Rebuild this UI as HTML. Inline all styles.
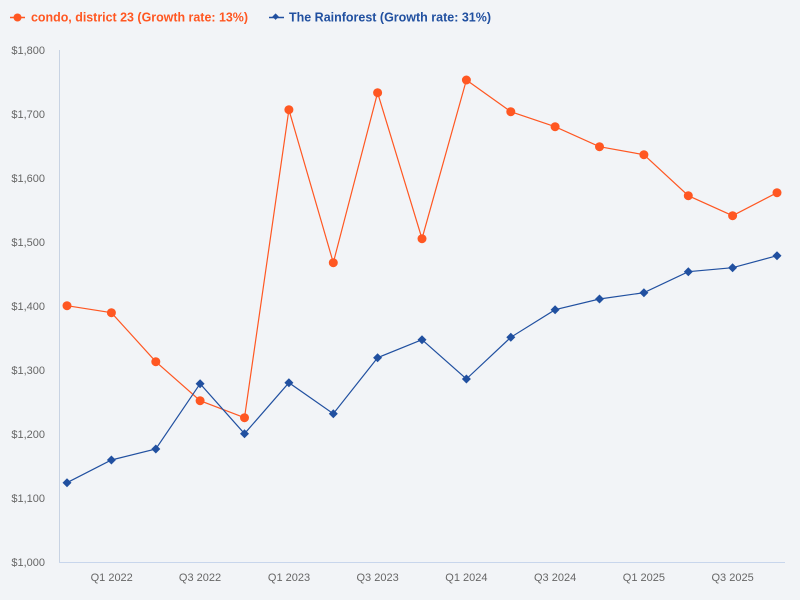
<!DOCTYPE html>
<html><head><meta charset="utf-8"><style>
html,body{margin:0;padding:0;background:#f2f4f7;}
svg{display:block;font-family:"Liberation Sans","DejaVu Sans",sans-serif;}
</style></head><body>
<svg width="800" height="600" viewBox="0 0 800 600" xmlns="http://www.w3.org/2000/svg">
<rect width="800" height="600" fill="#f2f4f7"/>
<!-- legend -->
<line x1="10" y1="17.5" x2="25" y2="17.5" stroke="#ff5722" stroke-width="1.5"/>
<circle cx="17.5" cy="17.5" r="4" fill="#ff5722"/>
<text x="31" y="21.5" font-size="12.5" font-weight="bold" fill="#ff5722" textLength="217" lengthAdjust="spacingAndGlyphs">condo, district 23 (Growth rate: 13%)</text>
<line x1="269" y1="17.5" x2="284" y2="17.5" stroke="#2150a0" stroke-width="1.5"/>
<rect x="273.3" y="14.3" width="4.6" height="4.6" fill="#2150a0" transform="rotate(45 275.6 16.6)"/>
<text x="289" y="21.5" font-size="12.5" font-weight="bold" fill="#2150a0" textLength="202" lengthAdjust="spacingAndGlyphs">The Rainforest (Growth rate: 31%)</text>
<!-- axes -->
<line x1="59.5" y1="50" x2="59.5" y2="562" stroke="#c8d3e3" stroke-width="1"/>
<line x1="59" y1="562.5" x2="785" y2="562.5" stroke="#c8d6ec" stroke-width="1"/>
<!-- y labels -->
<g font-size="11" fill="#666" text-anchor="end">
<text x="45" y="54">$1,800</text>
<text x="45" y="118">$1,700</text>
<text x="45" y="182">$1,600</text>
<text x="45" y="246">$1,500</text>
<text x="45" y="310">$1,400</text>
<text x="45" y="374">$1,300</text>
<text x="45" y="438">$1,200</text>
<text x="45" y="502">$1,100</text>
<text x="45" y="566">$1,000</text>
</g>
<!-- x labels -->
<g font-size="11" fill="#666" text-anchor="middle">
<text x="111.7" y="581">Q1 2022</text>
<text x="200" y="581">Q3 2022</text>
<text x="289" y="581">Q1 2023</text>
<text x="377.6" y="581">Q3 2023</text>
<text x="466.4" y="581">Q1 2024</text>
<text x="555.1" y="581">Q3 2024</text>
<text x="643.9" y="581">Q1 2025</text>
<text x="732.6" y="581">Q3 2025</text>
</g>
<!-- orange series -->
<polyline fill="none" stroke="#ff5722" stroke-width="1.2" points="67,305.7 111.4,312.7 155.8,361.7 200.1,400.7 244.5,417.7 288.9,109.7 333.3,262.7 377.6,92.7 422,238.7 466.4,80 510.8,111.7 555.1,126.7 599.5,146.7 643.9,154.7 688.3,195.7 732.6,215.7 777,192.7"/>
<g fill="#ff5722">
<circle cx="67" cy="305.7" r="4.5"/><circle cx="111.4" cy="312.7" r="4.5"/><circle cx="155.8" cy="361.7" r="4.5"/><circle cx="200.1" cy="400.7" r="4.5"/><circle cx="244.5" cy="417.7" r="4.5"/><circle cx="288.9" cy="109.7" r="4.5"/><circle cx="333.3" cy="262.7" r="4.5"/><circle cx="377.6" cy="92.7" r="4.5"/><circle cx="422" cy="238.7" r="4.5"/><circle cx="466.4" cy="80" r="4.5"/><circle cx="510.8" cy="111.7" r="4.5"/><circle cx="555.1" cy="126.7" r="4.5"/><circle cx="599.5" cy="146.7" r="4.5"/><circle cx="643.9" cy="154.7" r="4.5"/><circle cx="688.3" cy="195.7" r="4.5"/><circle cx="732.6" cy="215.7" r="4.5"/><circle cx="777" cy="192.7" r="4.5"/>
</g>
<!-- blue series -->
<polyline fill="none" stroke="#2150a0" stroke-width="1.2" points="67,482.7 111.4,460 155.8,449 200.1,383.7 244.5,433.7 288.9,382.7 333.3,413.7 377.6,357.7 422,339.7 466.4,379 510.8,337.3 555.1,309.7 599.5,299 643.9,292.7 688.3,271.7 732.6,267.7 777,255.7"/>
<g fill="#2150a0">
<path d="M67,478.2l4.5,4.5l-4.5,4.5l-4.5,-4.5z"/>
<path d="M111.4,455.5l4.5,4.5l-4.5,4.5l-4.5,-4.5z"/>
<path d="M155.8,444.5l4.5,4.5l-4.5,4.5l-4.5,-4.5z"/>
<path d="M200.1,379.2l4.5,4.5l-4.5,4.5l-4.5,-4.5z"/>
<path d="M244.5,429.2l4.5,4.5l-4.5,4.5l-4.5,-4.5z"/>
<path d="M288.9,378.2l4.5,4.5l-4.5,4.5l-4.5,-4.5z"/>
<path d="M333.3,409.2l4.5,4.5l-4.5,4.5l-4.5,-4.5z"/>
<path d="M377.6,353.2l4.5,4.5l-4.5,4.5l-4.5,-4.5z"/>
<path d="M422,335.2l4.5,4.5l-4.5,4.5l-4.5,-4.5z"/>
<path d="M466.4,374.5l4.5,4.5l-4.5,4.5l-4.5,-4.5z"/>
<path d="M510.8,332.8l4.5,4.5l-4.5,4.5l-4.5,-4.5z"/>
<path d="M555.1,305.2l4.5,4.5l-4.5,4.5l-4.5,-4.5z"/>
<path d="M599.5,294.5l4.5,4.5l-4.5,4.5l-4.5,-4.5z"/>
<path d="M643.9,288.2l4.5,4.5l-4.5,4.5l-4.5,-4.5z"/>
<path d="M688.3,267.2l4.5,4.5l-4.5,4.5l-4.5,-4.5z"/>
<path d="M732.6,263.2l4.5,4.5l-4.5,4.5l-4.5,-4.5z"/>
<path d="M777,251.2l4.5,4.5l-4.5,4.5l-4.5,-4.5z"/>
</g>
</svg>
</body></html>
